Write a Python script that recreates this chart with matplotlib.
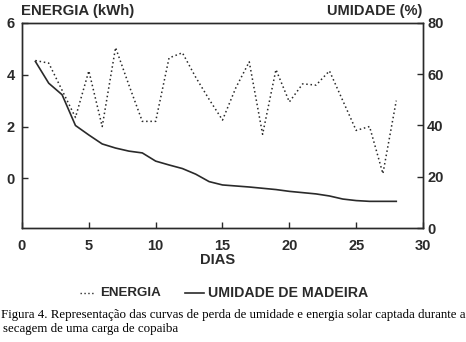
import matplotlib
matplotlib.use("Agg")
import matplotlib.pyplot as plt
from matplotlib.lines import Line2D

# Days of measurement
dias = list(range(1, 29))

# Solar energy captured (kWh), left axis
energia = [4.55, 4.45, 3.4, 2.35, 4.15, 2.0, 5.05, 3.6, 2.2, 2.2,
           4.65, 4.85, 3.9, 3.05, 2.25, 3.5, 4.5, 1.7, 4.2, 2.95,
           3.65, 3.6, 4.15, 3.0, 1.85, 2.0, 0.18, 3.0]

# Wood moisture (%), right axis
umidade = [65, 56.5, 52, 40, 36.3, 32.8, 31.2, 30, 29.3, 26.1,
           24.6, 23.2, 21, 18.1, 16.8, 16.4, 16, 15.5, 15, 14.3,
           13.8, 13.3, 12.5, 11.3, 10.7, 10.4, 10.4, 10.4]

x_ticks = [0, 5, 10, 15, 20, 25, 30]
y_left_ticks = [0, 2, 4, 6]
y_right_ticks = [0, 20, 40, 60, 80]

W, H = 466, 342
ink = '#2a2a2a'
sans = 'Liberation Sans'
serif = 'Liberation Serif'

fig = plt.figure(figsize=(W / 100, H / 100), dpi=100)
ax = fig.add_axes([22 / W, 1 - 228 / H, (423 - 22) / W, (228 - 23) / H])
ax2 = ax.twinx()

ax.plot(dias, energia, color=ink, lw=1.1, ls=(0, (1, 1.8)))
ax2.plot(dias, umidade, color=ink, lw=1.2)

ax.set_xlim(0, 30)
ax.set_ylim(-1.92, 6)
ax2.set_ylim(0, 80)
ax.set_xticks(x_ticks)
ax.set_yticks(y_left_ticks)
ax2.set_yticks(y_right_ticks)

for a in (ax, ax2):
    for s in a.spines.values():
        s.set_color(ink)
        s.set_linewidth(1.0)
    a.tick_params(direction='in', length=4, width=1, colors=ink, labelsize=10.5, pad=8)
    for lab in a.get_xticklabels() + a.get_yticklabels():
        lab.set_fontfamily(sans)
        lab.set_fontweight('bold')
ax.tick_params(axis='y', pad=5)
ax2.tick_params(axis='y', pad=3)

txt = dict(family=sans, weight='bold', color=ink)
fig.text(21 / W, 1 - 11 / H, 'ENERGIA (kWh)', ha='left', va='center', fontsize=10.8, **txt)
fig.text(422 / W, 1 - 11 / H, 'UMIDADE (%)', ha='right', va='center', fontsize=10.5, **txt)
fig.text(218 / W, 1 - 260 / H, 'DIAS', ha='center', va='center', fontsize=10.5, **txt)

# Legend row
y_leg = 1 - 293 / H
fig.add_artist(Line2D([80 / W, 95 / W], [y_leg, y_leg], color=ink, lw=1.0,
                      ls=(0, (1, 1.8)), transform=fig.transFigure))
fig.text(100 / W, y_leg, 'ENERGIA', ha='left', va='center', fontsize=9.6, **txt)
fig.add_artist(Line2D([185 / W, 204 / W], [y_leg, y_leg], color=ink, lw=1.2,
                      transform=fig.transFigure))
fig.text(208 / W, y_leg, 'UMIDADE DE MADEIRA', ha='left', va='center', fontsize=10.2, **txt)

cap = dict(family=serif, color='black', fontsize=9.28)
fig.text(1 / W, 1 - 315 / H,
         'Figura 4. Representação das curvas de perda de umidade e energia solar captada durante a',
         ha='left', va='center', **cap)
fig.text(3 / W, 1 - 329 / H, 'secagem de uma carga de copaiba', ha='left', va='center', **cap)

fig.savefig('out.png', dpi=100)
